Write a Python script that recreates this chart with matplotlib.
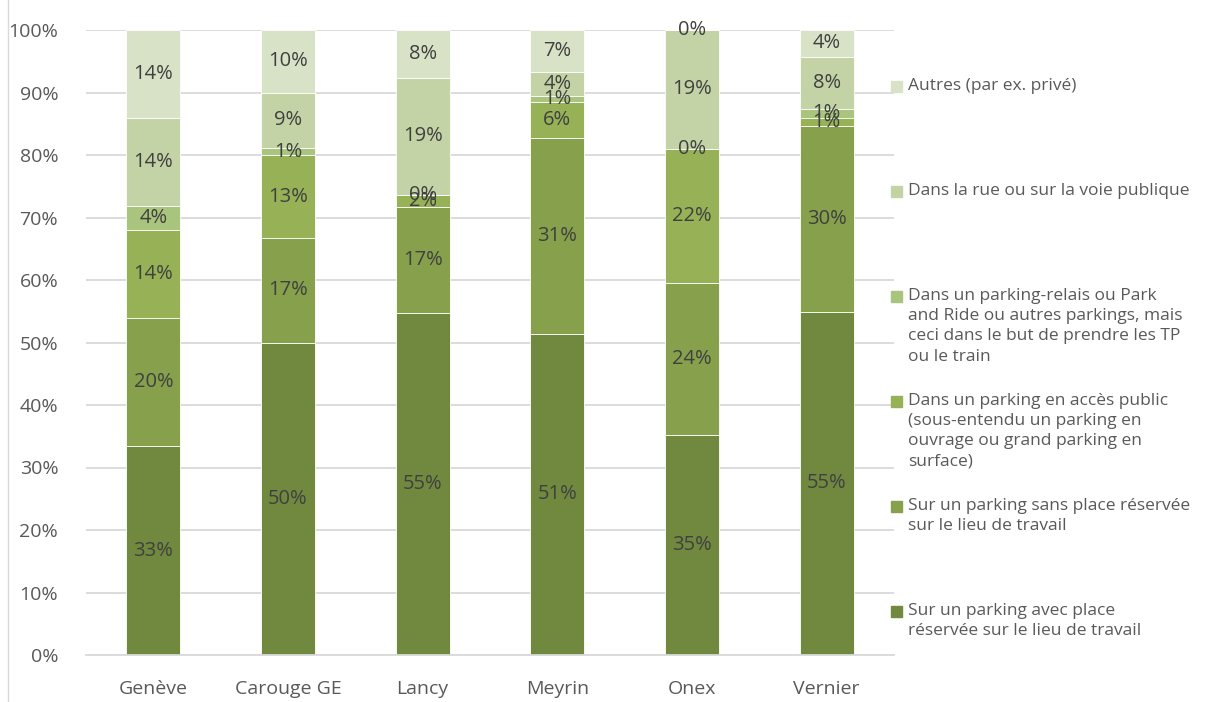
import matplotlib.pyplot as plt
import numpy as np

communes = ["Genève", "Carouge GE", "Lancy", "Meyrin", "Onex", "Vernier"]

categories = [
    "Sur un parking avec place\nréservée sur le lieu de travail",
    "Sur un parking sans place réservée\nsur le lieu de travail",
    "Dans un parking en accès public\n(sous-entendu un parking en\nouvrage ou grand parking en\nsurface)",
    "Dans un parking-relais ou Park\nand Ride ou autres parkings, mais\nceci dans le but de prendre les TP\nou le train",
    "Dans la rue ou sur la voie publique",
    "Autres (par ex. privé)",
]

# parts en % par commune (de bas en haut)
avec_place = [33.4, 50.0, 54.7, 51.4, 35.2, 54.9]
sans_place = [20.5, 16.7, 17.0, 31.4, 24.3, 29.7]
acces_public = [14.1, 13.3, 1.9, 5.7, 21.5, 1.4]
parking_relais = [3.8, 1.1, 0.0, 0.9, 0.0, 1.3]
rue = [14.1, 8.9, 18.8, 3.9, 19.0, 8.4]
autres = [14.1, 10.0, 7.6, 6.7, 0.0, 4.3]

series = [avec_place, sans_place, acces_public, parking_relais, rue, autres]
couleurs = ["#71893f", "#86a04c", "#97b256", "#a9c47c", "#c3d3a5", "#d8e2c7"]

plt.rcParams["font.family"] = ["Open Sans", "DejaVu Sans"]

fig = plt.figure(figsize=(12.13, 7.02), dpi=100)
ax = fig.add_axes([86 / 1213, 1 - 655 / 702, 808 / 1213, 625 / 702])

x = np.arange(len(communes))
bas = np.zeros(len(communes))
for vals, coul in zip(series, couleurs):
    vals = np.array(vals)
    ax.bar(x, vals, 0.4, bottom=bas, color=coul, edgecolor="white", linewidth=0.6, zorder=2)
    for xi, b, v in zip(x, bas, vals):
        ax.text(xi, b + v / 2, f"{v:.0f}%", ha="center", va="center",
                fontsize=14.5, color="#404040", zorder=3)
    bas += vals

ax.set_xlim(-0.5, len(communes) - 0.5)
ax.set_ylim(0, 100)
ax.set_yticks(np.arange(0, 101, 10))
ax.set_yticklabels([f"{t}%" for t in range(0, 101, 10)])
ax.set_xticks(x)
ax.set_xticklabels(communes)
ax.tick_params(axis="both", length=0, labelsize=14, colors="#595959")
ax.tick_params(axis="x", pad=18)
ax.tick_params(axis="y", pad=20)
ax.yaxis.grid(True, color="#d9d9d9", linewidth=1.3, zorder=0)
for s in ["top", "right", "left"]:
    ax.spines[s].set_visible(False)
ax.spines["bottom"].set_color("#d9d9d9")
ax.spines["bottom"].set_linewidth(1.3)

# légende à droite, ordre inversé
for i, (lab, coul) in enumerate(zip(categories[::-1], couleurs[::-1])):
    ypix = 86 + 105 * i
    fig.patches.append(plt.Rectangle((891 / 1213, 1 - (ypix + 6) / 702), 11 / 1213, 11 / 702,
                                     transform=fig.transFigure, color=coul))
    fig.text(908 / 1213, 1 - (ypix - 8) / 702, lab, ha="left", va="top",
             fontsize=12.5, color="#595959", linespacing=1.35)

# bordure gauche du graphique
fig.add_artist(plt.Line2D([8 / 1213, 8 / 1213], [0, 1], color="#d9d9d9", linewidth=1))

fig.savefig("out.png", dpi=100)
